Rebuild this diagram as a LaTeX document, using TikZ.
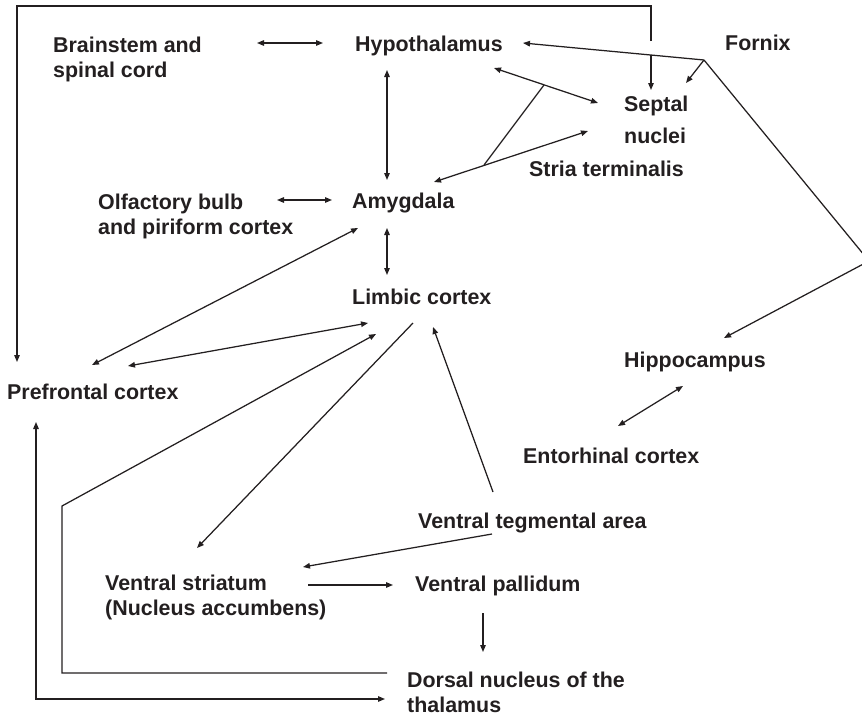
\documentclass[tikz,border=0pt]{standalone}
\usepackage{fontspec}
\setmainfont{Liberation Sans}
\usetikzlibrary{arrows.meta}
\definecolor{ink}{RGB}{35,31,32}
\newcommand\twolines[2]{\begin{tabular}[t]{@{}l@{}}#1\\#2\end{tabular}}
\begin{document}
\begin{tikzpicture}[x=1pt,y=-1pt,
  lbl/.style={anchor=base west,inner sep=0pt,text=ink,font=\fontsize{21.4}{25}\selectfont\bfseries},
  conn/.style={draw=ink,line width=1.25pt,line join=miter},
  tip/.style={conn,-{Triangle[length=7pt,width=5.5pt]}},
  both/.style={conn,{Triangle[length=7pt,width=5.5pt]}-{Triangle[length=7pt,width=5.5pt]}}]
\useasboundingbox (0,0) rectangle (862,715);

% labels
\node[lbl] (brain) at (53,52) {\twolines{Brainstem and}{spinal cord}};
\node[lbl] (hyp) at (355,51) {Hypothalamus};
\node[lbl] (fornix) at (725,50) {Fornix};
\node[lbl,font=\fontsize{21.4}{32}\selectfont\bfseries] (sep) at (624,111) {\twolines{Septal}{nuclei}};
\node[lbl] (stria) at (529,176) {Stria terminalis};
\node[lbl] (olf) at (98,209) {\twolines{Olfactory bulb}{and piriform cortex}};
\node[lbl] (amy) at (352,208) {Amygdala};
\node[lbl] (limb) at (352,304) {Limbic cortex};
\node[lbl] (pfc) at (7,399) {Prefrontal cortex};
\node[lbl] (hip) at (624,367) {Hippocampus};
\node[lbl] (ento) at (523,463) {Entorhinal cortex};
\node[lbl] (vta) at (418,528) {Ventral tegmental area};
\node[lbl] (vs) at (105,590) {\twolines{Ventral striatum}{(Nucleus accumbens)}};
\node[lbl] (vp) at (415,591) {Ventral pallidum};
\node[lbl] (dors) at (407,687) {\twolines{Dorsal nucleus of the}{thalamus}};

% connector end points
\coordinate (brainR) at (257,43);  \coordinate (hypL) at (323,43);
\coordinate (hypS) at (387,70);    \coordinate (amyN) at (387,180);
\coordinate (olfR) at (277,200);   \coordinate (amyL) at (332,200);
\coordinate (fx) at (704,60);      \coordinate (hypE) at (523,43);
\coordinate (sepNE) at (686,83);   \coordinate (fbend) at (869,261);
\coordinate (hipN) at (724,338);
\coordinate (hypSE) at (494,68);   \coordinate (sepW) at (598,103);
\coordinate (amyE) at (434,182);   \coordinate (sepSW) at (588,131);
\coordinate (stJ) at (484,165);    \coordinate (hsJ) at (544,85);
\coordinate (amyS) at (387,228);   \coordinate (limbN) at (387,275);
\coordinate (amySW) at (358,228);  \coordinate (pfcNE) at (92,365);
\coordinate (pfcE) at (128,366);   \coordinate (limbW) at (368,323);
\coordinate (dorsW) at (387,673);  \coordinate (dA) at (62,673);
\coordinate (dB) at (62,506);      \coordinate (limbSW) at (376,334);
\coordinate (limbS) at (413,323);  \coordinate (vsN) at (197,548);
\coordinate (vtaN) at (493,492);   \coordinate (limbSE) at (433,327);
\coordinate (vtaW) at (492,534);   \coordinate (vsNE) at (303,567);
\coordinate (vsE) at (308,585);    \coordinate (vpW) at (393,585);
\coordinate (vpS) at (483,613);    \coordinate (dorsN) at (483,652);
\coordinate (pfcS) at (36,422);    \coordinate (pB) at (36,699);
\coordinate (dorsSW) at (385,699);
\coordinate (hipSW) at (683,386);  \coordinate (entoNE) at (618,426);
\coordinate (sTop) at (651,41);    \coordinate (t1) at (651,6);
\coordinate (t2) at (17,6);        \coordinate (pfcN) at (17,362);
\coordinate (sA) at (651,55);      \coordinate (sepN) at (651,90);

% connectors
\draw[both] (brainR) -- (hypL);
\draw[both] (hypS) -- (amyN);
\draw[both] (olfR) -- (amyL);
\draw[tip] (fx) -- (hypE);
\draw[tip] (fx) -- (sepNE);
\draw[tip] (fx) -- (fbend) -- (hipN);
\draw[both] (hypSE) -- (sepW);
\draw[both] (amyE) -- (sepSW);
\draw[conn] (stJ) -- (hsJ);
\draw[both] (amyS) -- (limbN);
\draw[both] (amySW) -- (pfcNE);
\draw[both] (pfcE) -- (limbW);
\draw[tip] (dorsW) -- (dA) -- (dB) -- (limbSW);
\draw[tip] (limbS) -- (vsN);
\draw[tip] (vtaN) -- (limbSE);
\draw[tip] (vtaW) -- (vsNE);
\draw[tip] (vsE) -- (vpW);
\draw[tip] (vpS) -- (dorsN);
\draw[both] (pfcS) -- (pB) -- (dorsSW);
\draw[both] (hipSW) -- (entoNE);
\draw[tip] (sTop) -- (t1) -- (t2) -- (pfcN);
\draw[tip] (sA) -- (sepN);
\end{tikzpicture}
\end{document}
